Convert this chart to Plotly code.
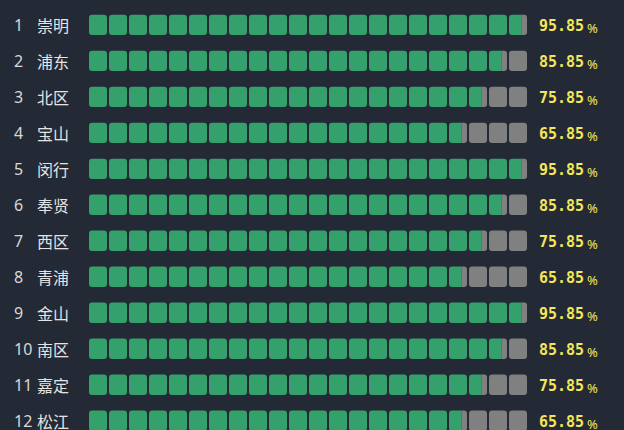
import plotly.graph_objects as go

# ---- data ----
ranks = [str(i) for i in range(1, 13)]
names = ["崇明", "浦东", "北区", "宝山", "闵行", "奉贤", "西区", "青浦", "金山", "南区", "嘉定", "松江"]
values = [95.85, 85.85, 75.85, 65.85, 95.85, 85.85, 75.85, 65.85, 95.85, 85.85, 75.85, 65.85]

# ---- style / layout constants ----
N_CELLS = 22
TRACK_START = -120.3   # axis value where the first cell begins
CELL_PITCH = 10.0      # axis units between cells
CELL_W = 9.0           # axis units per cell
CELL_H = 0.565         # row units
RX, RY = 1.6, 0.09     # corner rounding (axis units)
GREEN = "#34a06b"
GRAY = "#808080"
BG = "#232a35"
YELLOW = "#f5e55a"
TXT = "#e4e4e4"

X_RANGE = [-164.8, 147.2]
Y_RANGE = [11.256, -0.689]


def piece(x0, x1, y0, y1, round_left, round_right):
    rx = min(RX, (x1 - x0) / 2)
    p = []
    if round_left:
        p.append(f"M {x0 + rx},{y0}")
    else:
        p.append(f"M {x0},{y0}")
    if round_right:
        p.append(f"L {x1 - rx},{y0} Q {x1},{y0} {x1},{y0 + RY}")
        p.append(f"L {x1},{y1 - RY} Q {x1},{y1} {x1 - rx},{y1}")
    else:
        p.append(f"L {x1},{y0} L {x1},{y1}")
    if round_left:
        p.append(f"L {x0 + rx},{y1} Q {x0},{y1} {x0},{y1 - RY}")
        p.append(f"L {x0},{y0 + RY} Q {x0},{y0} {x0 + rx},{y0} Z")
    else:
        p.append(f"L {x0},{y1} Z")
    return " ".join(p)


shapes = []
for i, v in enumerate(values):
    y0, y1 = i - CELL_H / 2, i + CELL_H / 2
    for j in range(N_CELLS):
        c0 = TRACK_START + j * CELL_PITCH
        c1 = c0 + CELL_W
        if v >= c1:
            shapes.append(dict(type="path", path=piece(c0, c1, y0, y1, True, True),
                               fillcolor=GREEN, line=dict(width=0), xref="x", yref="y"))
        elif v <= c0:
            shapes.append(dict(type="path", path=piece(c0, c1, y0, y1, True, True),
                               fillcolor=GRAY, line=dict(width=0), xref="x", yref="y"))
        else:
            shapes.append(dict(type="path", path=piece(c0, v, y0, y1, True, False),
                               fillcolor=GREEN, line=dict(width=0), xref="x", yref="y"))
            shapes.append(dict(type="path", path=piece(v, c1, y0, y1, False, True),
                               fillcolor=GRAY, line=dict(width=0), xref="x", yref="y"))

annotations = []
for i, (r, n, v) in enumerate(zip(ranks, names, values)):
    annotations.append(dict(x=12 / 624, xref="paper", y=i, yref="y", text=r, showarrow=False,
                            xanchor="left", yanchor="middle",
                            font=dict(family="Noto Sans", size=16, color="#d8d8d8")))
    annotations.append(dict(x=35 / 624, xref="paper", y=i, yref="y", text=n, showarrow=False,
                            xanchor="left", yanchor="middle",
                            font=dict(family="Noto Sans CJK SC", size=16, color=TXT)))
    annotations.append(dict(x=537 / 624, xref="paper", y=i + 0.03, yref="y",
                            text=f"<b>{v:.2f}</b>",
                            showarrow=False, xanchor="left", yanchor="middle",
                            font=dict(family="DejaVu Sans Mono", size=15, color=YELLOW)))
    annotations.append(dict(x=585 / 624, xref="paper", y=i + 0.08, yref="y",
                            text="%", showarrow=False, xanchor="left", yanchor="middle",
                            font=dict(family="Noto Sans", size=13, color=YELLOW)))

fig = go.Figure()
fig.add_trace(go.Scatter(x=values, y=list(range(len(values))), mode="markers",
                         marker=dict(opacity=0), hoverinfo="skip", showlegend=False))
fig.update_layout(
    width=624, height=430, autosize=False,
    margin=dict(l=0, r=0, t=0, b=0),
    paper_bgcolor=BG, plot_bgcolor=BG,
    xaxis=dict(range=X_RANGE, visible=False, fixedrange=True),
    yaxis=dict(range=Y_RANGE, visible=False, fixedrange=True),
    shapes=shapes, annotations=annotations, showlegend=False,
)
fig.write_html("out.html")
